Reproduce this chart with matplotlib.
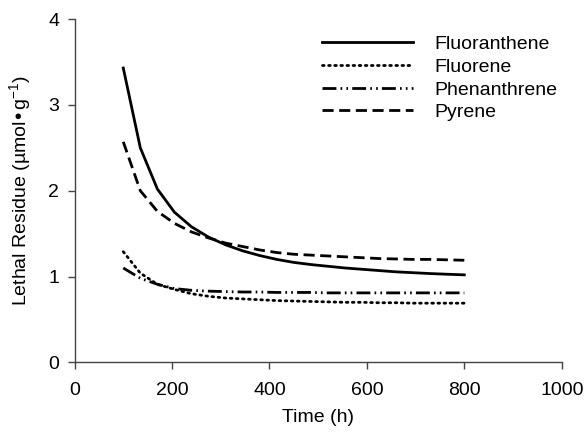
import matplotlib
matplotlib.use('Agg')
from matplotlib import pyplot as plt

plt.rcParams['font.family'] = ['Liberation Sans', 'DejaVu Sans']

times = [100, 135, 170, 205, 240, 275, 310, 345, 380, 415, 450,
         485, 520, 555, 590, 625, 660, 695, 730, 765, 800]

fluoranthene = [3.43, 2.50, 2.02, 1.75, 1.58, 1.46, 1.37, 1.30, 1.245, 1.20, 1.165,
                1.14, 1.12, 1.10, 1.085, 1.07, 1.055, 1.045, 1.035, 1.027, 1.02]
fluorene = [1.29, 1.04, 0.91, 0.85, 0.80, 0.77, 0.75, 0.74, 0.73, 0.72, 0.715,
            0.71, 0.705, 0.70, 0.70, 0.695, 0.695, 0.69, 0.69, 0.69, 0.69]
phenanthrene = [1.10, 0.98, 0.91, 0.86, 0.84, 0.83, 0.825, 0.82, 0.82, 0.815, 0.815,
                0.815, 0.81, 0.81, 0.81, 0.81, 0.81, 0.81, 0.81, 0.81, 0.81]
pyrene = [2.57, 2.00, 1.76, 1.62, 1.52, 1.45, 1.39, 1.35, 1.31, 1.28, 1.26,
          1.25, 1.24, 1.23, 1.22, 1.21, 1.205, 1.20, 1.20, 1.195, 1.19]

fig = plt.figure(figsize=(5.87, 4.34), dpi=100)
ax = fig.add_axes([0.127, 0.165, 0.83, 0.791])

ax.plot(times, fluoranthene, color='black', lw=2.0, ls='-', label='Fluoranthene')
ax.plot(times, fluorene, color='black', lw=2.0, ls=(0, (0.6, 1.6)),
        dash_capstyle='round', label='Fluorene')
ax.plot(times, phenanthrene, color='black', lw=2.0,
        ls=(0, (5, 1.5, 0.6, 1.5, 0.6, 1.5)), label='Phenanthrene')
ax.plot(times, pyrene, color='black', lw=2.0, ls=(0, (4, 2)), label='Pyrene')

ax.set_xlim(0, 1000)
ax.set_ylim(0, 4)
ax.set_xticks([0, 200, 400, 600, 800, 1000])
ax.set_yticks([0, 1, 2, 3, 4])
for s in ['top', 'right']:
    ax.spines[s].set_visible(False)
for s in ['left', 'bottom']:
    ax.spines[s].set_color('#444444')
    ax.spines[s].set_linewidth(1.0)
ax.tick_params(direction='out', length=5, width=1, color='#444444',
               labelsize=14, pad=6)
ax.tick_params(axis='x', pad=9)

ax.set_xlabel('Time (h)', fontsize=14, labelpad=7)
ax.set_ylabel('Lethal Residue (µmol•g$^{\\mathregular{-1}}$)', fontsize=14, labelpad=10)

ax.legend(loc='upper left', bbox_to_anchor=(0.508, 0.952), frameon=False, fontsize=14,
          handlelength=4.7, handletextpad=1.1, labelspacing=0.26,
          borderpad=0, borderaxespad=0)

fig.savefig('out.png', dpi=100)
